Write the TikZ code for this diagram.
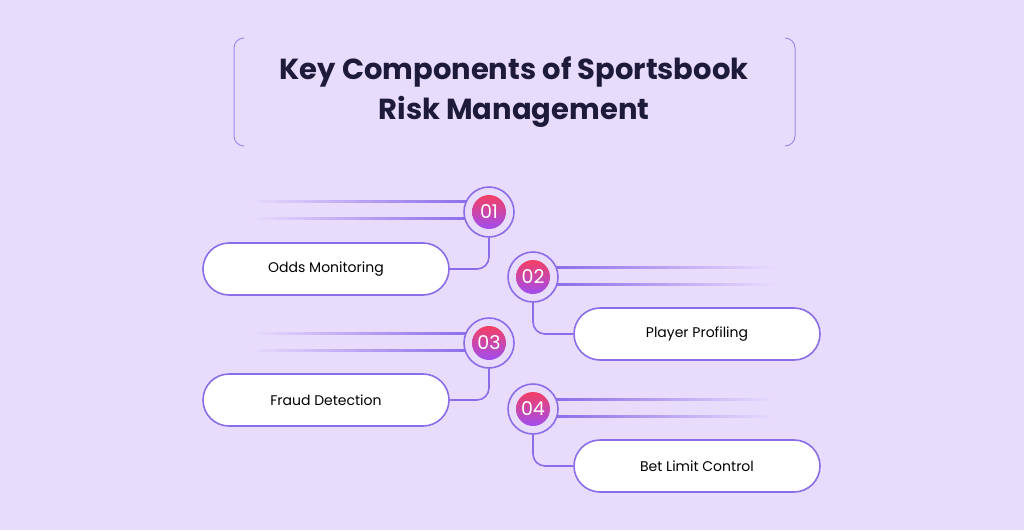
\documentclass[tikz,border=0pt]{standalone}
\usepackage{fontspec}
\setmainfont{Poppins}
\usetikzlibrary{positioning,calc}
\definecolor{bgviolet}{HTML}{E8DCFD}
\definecolor{ringviolet}{HTML}{8A6DE9}
\definecolor{titleink}{HTML}{1E1B3A}
\definecolor{badgetop}{HTML}{F43F64}
\definecolor{badgebot}{HTML}{A04DF0}
\tikzset{
  pill/.style={draw=ringviolet, line width=1.6pt, fill=white, rounded corners=26pt,
    minimum width=246pt, minimum height=52pt, font=\fontsize{14}{16}\selectfont, text=black},
  ring/.style={circle, draw=ringviolet, line width=1.6pt, fill=bgviolet, minimum size=50pt, inner sep=0pt},
  link/.style={draw=ringviolet, line width=1.6pt, rounded corners=12pt},
}
\newcommand{\badge}[3]{% name, position, label
  \node[ring] (#1) at #2 {};
  \shade[top color=badgetop, bottom color=badgebot] (#1.center) circle (17pt);
  \node[text=white, font=\fontsize{19}{20}\selectfont] at (#1.center) {#3};
}
\begin{document}
\begin{tikzpicture}[x=1pt, y=-1pt]
    \fill[bgviolet] (0,0) rectangle (1024,530);
    \useasboundingbox (0,0) rectangle (1024,530);

    % Title brackets
    \draw[ringviolet!80, line width=1pt] (244,38) arc (-90:-180:10) -- (234,136) arc (-180:-270:10);
    \draw[ringviolet!80, line width=1pt] (785,38) arc (-90:0:10) -- (795,136) arc (0:90:10);
    \node[text=titleink, font=\fontsize{29}{40}\selectfont\bfseries, align=center] (title) at (514,92)
        {Key Components of Sportsbook\\Risk Management};

    % Fading lines
    \foreach \y in {201,218,333,350} {
        \shade[left color=bgviolet, right color=ringviolet] (250,\y-1) rectangle (468,\y+1);
    }
    \foreach \y in {267,284,399,416} {
        \shade[left color=ringviolet, right color=bgviolet] (555,\y-1) rectangle (775,\y+1);
    }

    % Badges
    \badge{c1}{(489,212)}{01}
    \badge{c2}{(533,277)}{02}
    \badge{c3}{(489,343)}{03}
    \badge{c4}{(533,409)}{04}

    % Pills
    \node[pill] (p1) at (326,269) {Odds Monitoring};
    \node[pill] (p2) at (697,334) {Player Profiling};
    \node[pill] (p3) at (326,400) {Fraud Detection};
    \node[pill] (p4) at (697,466) {Bet Limit Control};

    % Links
    \draw[link] (c1.south) |- (p1.east);
    \draw[link] (c2.south) |- (p2.west);
    \draw[link] (c3.south) |- (p3.east);
    \draw[link] (c4.south) |- (p4.west);
\end{tikzpicture}
\end{document}
